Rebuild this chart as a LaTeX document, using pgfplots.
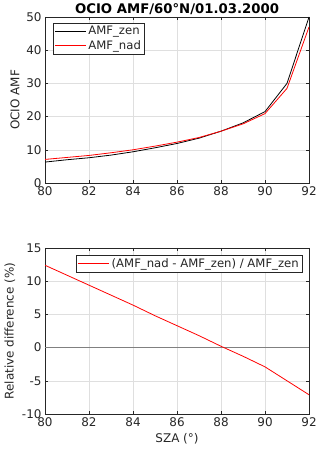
\documentclass[border=0pt]{standalone}
\usepackage{fontspec}
\setmainfont{DejaVu Sans}
\usepackage{pgfplots}
\pgfplotsset{compat=1.18}
\definecolor{axgray}{HTML}{262626}
\definecolor{gridgray}{HTML}{DFDFDF}
\pgfplotsset{
  mstyle/.style={
    scale only axis, width=264bp, height=166bp,
    xmin=80, xmax=92, xtick={80,82,...,92},
    grid=major, grid style={gridgray, line width=0.5pt},
    axis line style={axgray, line width=0.6pt},
    tick style={axgray, line width=0.5pt},
    major tick length=3bp, tick align=inside,
    ticklabel style={font=\fontsize{12}{14}\selectfont, text=axgray},
    /pgf/number format/assume math mode=true,
    label style={font=\fontsize{12}{14}\selectfont, text=axgray},
    legend cell align=left,
    legend style={font=\fontsize{11.7}{14}\selectfont, draw=axgray, fill=white,
      text=axgray, inner xsep=1.5bp, inner ysep=1.5bp, row sep=0bp},
    every axis plot/.append style={line width=0.8pt},
  },
}
\begin{document}
\begin{tikzpicture}[x=1bp,y=1bp]
\useasboundingbox (0,0) rectangle (320,451);

\begin{axis}[mstyle,
  at={(45bp,268bp)}, anchor=south west,
  ymin=0, ymax=50, ytick={0,10,...,50},
  ylabel={OCIO AMF},
  title={OCIO AMF/60°N/01.03.2000},
  title style={font=\bfseries\fontsize{13.3}{15}\selectfont, text=black,
    at={(0.5,1)}, anchor=base, inner sep=0pt, yshift=-2bp},
  legend style={at={(0.03,0.965)}, anchor=north west},
]
\addplot[draw=black, legend image code/.code={\draw[draw=black, line width=0.8pt] (0bp,0bp) -- (31bp,0bp);}] coordinates {
  (80,6.3)(81,7.0)(82,7.6)(83,8.4)(84,9.4)(85,10.6)(86,11.9)
  (87,13.5)(88,15.6)(89,18.1)(90,21.5)(91,30.0)(92,50.0)};
\addlegendentry{AMF\_zen}
\addplot[draw=red, legend image code/.code={\draw[draw=red, line width=0.8pt] (0bp,0bp) -- (31bp,0bp);}] coordinates {
  (80,7.1)(81,7.7)(82,8.3)(83,9.1)(84,10.0)(85,11.1)(86,12.3)
  (87,13.7)(88,15.6)(89,17.8)(90,20.9)(91,28.5)(92,47.0)};
\addlegendentry{AMF\_nad}
\end{axis}

\begin{axis}[mstyle,
  at={(45bp,37bp)}, anchor=south west,
  ymin=-10, ymax=15, ytick={-10,-5,...,15},
  ylabel={Relative difference (\%)},
  xlabel={SZA (°)},
  legend style={at={(0.975,0.96)}, anchor=north east},
]
\addplot[draw=gray, line width=0.6pt, forget plot] coordinates {(80,0)(92,0)};
\addplot[draw=red, legend image code/.code={\draw[draw=red, line width=0.8pt] (0bp,0bp) -- (31bp,0bp);}] coordinates {
  (80,12.4)(81,10.9)(82,9.4)(83,7.9)(84,6.4)(85,4.8)(86,3.3)
  (87,1.8)(88,0.2)(89,-1.3)(90,-2.9)(91,-5.0)(92,-7.1)};
\addlegendentry{(AMF\_nad - AMF\_zen) / AMF\_zen}
\end{axis}
\end{tikzpicture}
\end{document}
